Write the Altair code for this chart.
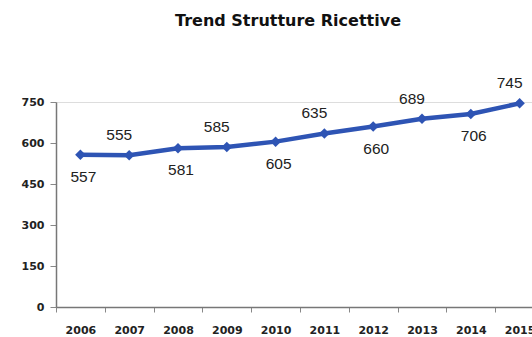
import altair as alt
import pandas as pd

years = ["2006", "2007", "2008", "2009", "2010", "2011", "2012", "2013", "2014", "2015"]
values = [557, 555, 581, 585, 605, 635, 660, 689, 706, 745]
label_side = ["below", "above", "below", "above", "below", "above", "below", "above", "below", "above"]
y_ticks = [0, 150, 300, 450, 600, 750]

df = pd.DataFrame({"year": years, "value": values, "side": label_side})

BLUE = "#2E54B4"

x = alt.X("year:N", sort=years, title=None,
          scale=alt.Scale(range=[0, 488], paddingInner=0, paddingOuter=0),
          axis=alt.Axis(labelAngle=0, tickBand="extent", tickSize=5, labelPadding=12,
                        labelFont="DejaVu Sans", labelFontSize=11, labelFontWeight="bold",
                        labelColor="#222222", domainColor="#777777", tickColor="#888888",
                        domainWidth=1.5, grid=False))
y = alt.Y("value:Q", title=None,
          scale=alt.Scale(domain=[0, 750], nice=False, zero=True),
          axis=alt.Axis(values=y_ticks, tickSize=6, labelPadding=6, grid=False,
                        labelFont="DejaVu Sans", labelFontSize=11, labelFontWeight="bold",
                        labelColor="#222222", domainColor="#777777", tickColor="#888888",
                        domainWidth=1.5))

base = alt.Chart(df)

line = base.mark_line(color=BLUE, strokeWidth=4.5).encode(x=x, y=y)
points = base.mark_point(shape="diamond", filled=True, color=BLUE, size=110, opacity=1).encode(x=x, y=y)

above = base.transform_filter(alt.datum.side == "above").mark_text(
    dy=-20, dx=-10, font="Liberation Sans", fontSize=15.5, color="#222222", baseline="middle"
).encode(x=x, y=y, text="value:Q")
below = base.transform_filter(alt.datum.side == "below").mark_text(
    dy=22, dx=3, font="Liberation Sans", fontSize=15.5, color="#222222", baseline="middle"
).encode(x=x, y=y, text="value:Q")

chart = alt.layer(line, points, above, below).properties(
    width=476, height=205,
    autosize=alt.AutoSizeParams(type="none"),
    padding={"left": 56, "top": 102, "right": 0, "bottom": 30},
    title=alt.TitleParams("Trend Strutture Ricettive", font="DejaVu Sans", fontSize=16,
                          fontWeight="bold", color="#111111", anchor="middle", offset=47, dx=-6),
).configure_view(stroke=None).configure(background="white")

chart.save("out.html", embed_options={"renderer": "svg", "actions": False})
